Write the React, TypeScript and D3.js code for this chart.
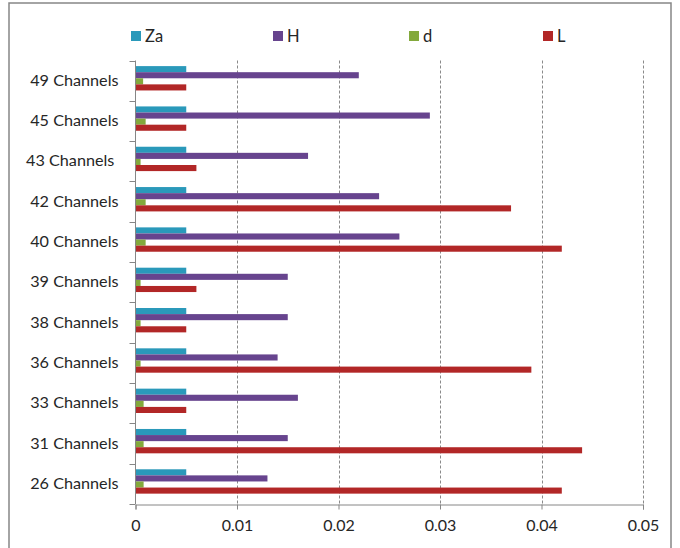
import React, { useEffect, useRef } from "react";
import * as d3 from "d3";

const categories = [
  "49 Channels",
  "45 Channels",
  "43 Channels ",
  "42 Channels",
  "40 Channels",
  "39 Channels",
  "38 Channels",
  "36 Channels",
  "33 Channels",
  "31 Channels",
  "26 Channels",
];

const seriesNames = ["Za", "H", "d", "L"];
const seriesColors = ["#2A99BA", "#67448E", "#83A93C", "#B22727"];

const zaValues = [0.005, 0.005, 0.005, 0.005, 0.005, 0.005, 0.005, 0.005, 0.005, 0.005, 0.005];
const hValues = [0.022, 0.029, 0.017, 0.024, 0.026, 0.015, 0.015, 0.014, 0.016, 0.015, 0.013];
const dValues = [0.00075, 0.001, 0.0005, 0.001, 0.001, 0.0005, 0.0005, 0.0005, 0.0008, 0.0008, 0.0008];
const lValues = [0.005, 0.005, 0.006, 0.037, 0.042, 0.006, 0.005, 0.039, 0.005, 0.044, 0.042];

const xTicks = [0, 0.01, 0.02, 0.03, 0.04, 0.05];

const FONT = "Lato, 'Open Sans', sans-serif";

const App = () => {
  const ref = useRef<SVGSVGElement | null>(null);

  useEffect(() => {
    const svg = d3.select(ref.current);
    svg.selectAll("*").remove();

    const values = [zaValues, hValues, dValues, lValues];
    const margin = { top: 60.5, left: 135.5, right: 37, bottom: 44 };
    const W = 680;
    const H = 548;

    // frame
    svg.append("rect")
      .attr("x", 9)
      .attr("y", 3)
      .attr("width", 662)
      .attr("height", 560)
      .attr("fill", "#fff")
      .attr("stroke", "#868686")
      .attr("stroke-width", 1.5);

    const x = d3.scaleLinear().domain([0, 0.05]).range([margin.left, W - margin.right]);
    const y = d3.scaleBand<string>().domain(categories).range([margin.top, H - margin.bottom]);
    const bw = y.bandwidth();
    const inner = d3.scaleBand<string>().domain(seriesNames).range([bw * 0.139, bw * 0.743]);

    // grid
    svg.append("g")
      .selectAll("line")
      .data(xTicks.slice(1))
      .join("line")
      .attr("x1", (d) => Math.round(x(d)) + 0.5)
      .attr("x2", (d) => Math.round(x(d)) + 0.5)
      .attr("y1", margin.top)
      .attr("y2", H - margin.bottom)
      .attr("stroke", "#8a8a8a")
      .attr("stroke-dasharray", "3,2");

    // bars
    seriesNames.forEach((s, si) => {
      svg.append("g")
        .selectAll("rect")
        .data(categories)
        .join("rect")
        .attr("x", x(0))
        .attr("y", (c) => (y(c) as number) + (inner(s) as number))
        .attr("width", (c, i) => x(values[si][i]) - x(0))
        .attr("height", inner.bandwidth())
        .attr("fill", seriesColors[si]);
    });

    // y axis
    const yAxis = svg.append("g")
      .attr("transform", `translate(${margin.left},0)`);
    yAxis.append("line")
      .attr("y1", margin.top).attr("y2", H - margin.bottom)
      .attr("stroke", "#868686");
    yAxis.selectAll("line.tk")
      .data([...categories.map((c) => y(c) as number), H - margin.bottom])
      .join("line")
      .attr("class", "tk")
      .attr("x1", -6).attr("x2", 0)
      .attr("y1", (d) => Math.round(d) + 0.5).attr("y2", (d) => Math.round(d) + 0.5)
      .attr("stroke", "#868686");
    yAxis.selectAll("text")
      .data(categories)
      .join("text")
      .attr("x", -17)
      .attr("y", (c) => (y(c) as number) + bw / 2 - 0.5)
      .attr("dy", "0.35em")
      .attr("text-anchor", "end")
      .attr("font-family", FONT)
      .attr("font-size", 16.2)
      .attr("fill", "#262626")
      .style("white-space", "pre")
      .text((c) => c);

    // x axis
    const xAxis = svg.append("g")
      .attr("transform", `translate(0,${Math.round(H - margin.bottom) + 0.5})`)
      .call(d3.axisBottom(x).tickValues(xTicks).tickSize(5).tickPadding(10).tickFormat((d) => String(+d)));
    xAxis.select(".domain").attr("stroke", "#868686");
    xAxis.selectAll(".tick line").attr("stroke", "#868686");
    xAxis.selectAll(".tick text")
      .attr("font-family", FONT)
      .attr("font-size", 16)
      .attr("fill", "#262626");

    // legend
    const legendX = [131, 273, 409, 543];
    const lg = svg.append("g");
    seriesNames.forEach((s, i) => {
      lg.append("rect")
        .attr("x", legendX[i]).attr("y", 31)
        .attr("width", 10).attr("height", 10)
        .attr("fill", seriesColors[i]);
      lg.append("text")
        .attr("x", legendX[i] + 14).attr("y", 36)
        .attr("dy", "0.35em")
        .attr("font-family", FONT)
        .attr("font-size", 16.5)
        .attr("fill", "#262626")
        .text(s);
    });
  }, []);

  return (
    <div style={{ position: "fixed", left: 0, top: 0 }}>
      <svg ref={ref} width={680} height={548} style={{ display: "block" }} />
    </div>
  );
};

export default App;
